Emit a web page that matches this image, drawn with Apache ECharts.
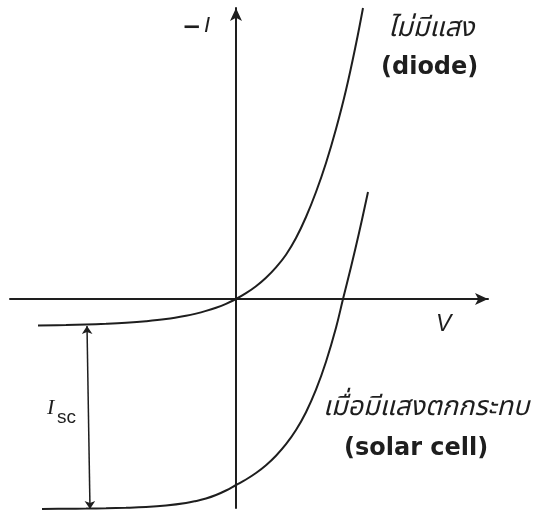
<!DOCTYPE html>
<html>
<head>
<meta charset="utf-8">
<script src="https://cdn.jsdelivr.net/npm/echarts@6/dist/echarts.min.js"></script>
<style>
  html, body { margin: 0; padding: 0; background: #fff; }
  #chart { width: 533px; height: 516px; }
</style>
</head>
<body>
<div id="chart"></div>
<script>
// I–V characteristic: the dark diode curve and the same junction under light.
// Voltage (V) and current (−I) in arbitrary units.
const diodeV = [-19.8, -17, -15, -13, -11, -9, -7, -5, -4, -3, -2, -1, 0,
                1, 2, 3, 4, 5, 6, 7, 8, 9, 10, 11, 12, 12.7];
const diodeI = [-2.64, -2.60, -2.55, -2.48, -2.38, -2.23, -2.01, -1.68, -1.46, -1.19, -0.87, -0.48, 0,
                0.58, 1.28, 2.13, 3.17, 4.43, 6.1, 8.2, 10.7, 13.6, 17.0, 20.9, 25.5, 29.1];

const cellV = [-19.4, -17, -15, -13, -11, -9, -7, -5, -4, -3, -2, -1, 0,
               1, 2, 3, 4, 5, 6, 7, 8, 9, 10, 10.7, 11.5, 12.3, 13.2];
const cellI = [-21.0, -20.98, -20.96, -20.93, -20.88, -20.8, -20.65, -20.4, -20.2, -19.95, -19.6, -19.15, -18.6,
               -18.05, -17.4, -16.62, -15.67, -14.52, -13.1, -11.32, -9.07, -6.27, -2.87, 0, 3.2, 6.6, 10.7];

// short-circuit current marker: position on the V axis and its two ends
const iscV = [-14.9, -14.6];
const iscI = [-2.7, -21.0];

// axis extents
const vRange = [-22.6, 25.2];
const iRange = [-20.9, 29.1];

const INK = '#1e1e1e';
const pairs = (xs, ys) => xs.map((x, k) => [x, ys[k]]);

const chart = echarts.init(document.getElementById('chart'), null, { renderer: 'canvas' });

const thaiFont = '"Noto Sans Thai", "Noto Serif Thai", Loma, Garuda, Norasi, "DejaVu Sans", sans-serif';

const curve = (name, xs, ys) => ({
  name,
  type: 'line',
  data: pairs(xs, ys),
  smooth: 0.4,
  showSymbol: false,
  clip: false,
  lineStyle: { color: INK, width: 2 }
});

chart.setOption({
  backgroundColor: '#ffffff',
  animation: false,
  grid: { left: 10, right: 45, top: 8, bottom: 8 },
  xAxis: {
    type: 'value',
    min: vRange[0], max: vRange[1],
    axisLine: {
      onZero: true,
      lineStyle: { color: INK, width: 2 },
      symbol: ['none', 'arrow'],
      symbolSize: [9, 13]
    },
    axisTick: { show: false },
    axisLabel: { show: false },
    splitLine: { show: false }
  },
  yAxis: {
    type: 'value',
    min: iRange[0], max: iRange[1],
    axisLine: {
      onZero: true,
      lineStyle: { color: INK, width: 2 },
      symbol: ['none', 'arrow'],
      symbolSize: [9, 13]
    },
    axisTick: { show: false },
    axisLabel: { show: false },
    splitLine: { show: false }
  },
  series: [
    curve('diode', diodeV, diodeI),
    curve('solar cell', cellV, cellI),
    {
      name: 'Isc',
      type: 'lines',
      coordinateSystem: 'cartesian2d',
      silent: true,
      symbol: ['arrow', 'arrow'],
      symbolSize: 8,
      lineStyle: { color: INK, width: 1.5, opacity: 1 },
      data: [{ coords: [[iscV[0], iscI[0]], [iscV[1], iscI[1]]] }]
    }
  ],
  graphic: [
    {
      type: 'text', left: 182, top: 17,
      style: { text: '−', font: 'bold 23px "DejaVu Sans", sans-serif', fill: INK }
    },
    {
      type: 'text', left: 204, top: 15,
      style: { text: 'I', font: 'italic 22px "Liberation Sans", sans-serif', fill: INK }
    },
    {
      type: 'text', left: 436, top: 313,
      style: { text: 'V', font: 'italic 23px "Liberation Sans", sans-serif', fill: INK }
    },
    {
      type: 'text', left: 388, top: 17,
      style: { text: 'ไม่มีแสง', font: 'italic 27px ' + thaiFont, fill: INK }
    },
    {
      type: 'text', left: 381, top: 56,
      style: { text: '(diode)', font: 'bold 24px "DejaVu Sans", sans-serif', fill: INK }
    },
    {
      type: 'text', left: 323, top: 396,
      style: { text: 'เมื่อมีแสงตกกระทบ', font: 'italic 27px ' + thaiFont, fill: INK }
    },
    {
      type: 'text', left: 344, top: 437,
      style: { text: '(solar cell)', font: 'bold 24px "DejaVu Sans", sans-serif', fill: INK }
    },
    {
      type: 'text', left: 47, top: 397,
      style: { text: 'I', font: 'italic 22px "Liberation Serif", serif', fill: INK }
    },
    {
      type: 'text', left: 57, top: 408,
      style: { text: 'sc', font: '19px "Liberation Sans", sans-serif', fill: INK }
    }
  ]
});
</script>
</body>
</html>
